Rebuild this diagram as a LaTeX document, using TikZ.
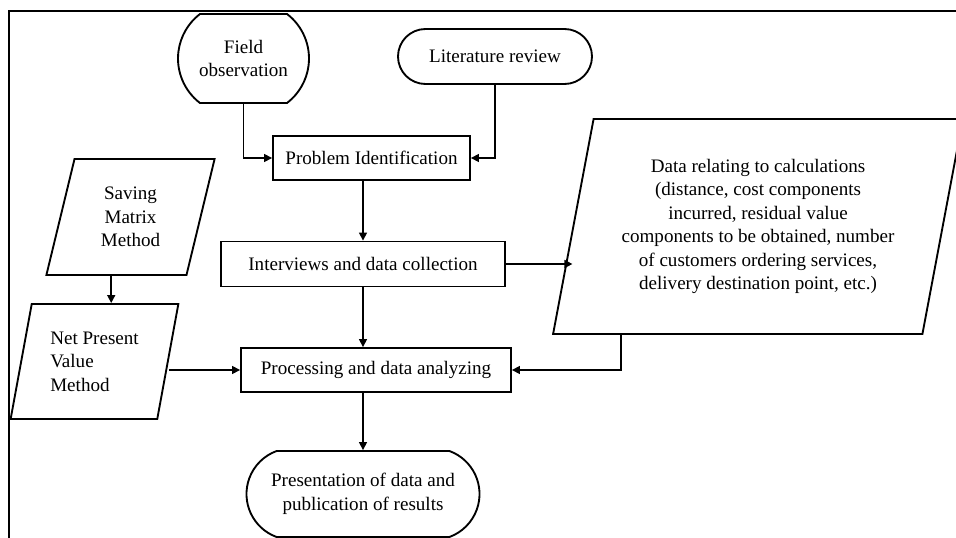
\documentclass[tikz,border=0pt]{standalone}
\usepackage{fontspec}
\setmainfont{Liberation Serif}
\usepackage{tikz}
\usetikzlibrary{positioning,shapes.misc,shapes.geometric,arrows.meta,calc}

\tikzset{
	box/.style={draw, line width=1.4pt, inner sep=0pt, align=center},
	term/.style={box, rounded rectangle},
	io/.style={box, trapezium, trapezium left angle=76, trapezium right angle=104, trapezium stretches=true},
	link/.style={line width=1.15pt, -{Triangle[length=6pt,width=6pt]}},
}

\begin{document}
\begin{tikzpicture}[x=0.75pt, y=-0.75pt, font=\fontsize{14.3}{17.6}\selectfont]
	\clip (0,0) rectangle (956,538);
	\draw[line width=1.1pt] (9,600) -- (9,11) -- (1000,11);
	\node[term, rounded rectangle arc length=105, minimum width=98.25pt, minimum height=66.75pt] (field) at (243.5,58.5) {Field\\observation};
	\node[term, minimum width=145.5pt, minimum height=41.25pt] (lit) at (495,56.5) {Literature review};
	\node[box, minimum width=147.75pt, minimum height=33pt] (prob) at (371.5,158) {Problem Identification};
	\node[box, minimum width=213pt, minimum height=33.75pt] (iv) at (363,264) {Interviews and data collection};
	\node[box, minimum width=202.5pt, minimum height=33pt] (proc) at (376,370) {Processing and data analyzing};
	\node[term, rounded rectangle arc length=140, minimum width=174.75pt, minimum height=64.5pt] (pres) at (363,494) {Presentation of data and\\publication of results};
	\node[io, minimum width=126.75pt, minimum height=87pt] (sav) at (130.5,217) {Saving\\Matrix\\Method};
	\node[io, minimum width=126.75pt, minimum height=86.25pt, align=left] (npv) at (94.5,361.5) {Net Present\\Value\\Method};
	\node[io, minimum width=307.5pt, minimum height=161.25pt] (data) at (758,226.5) {Data relating to calculations\\(distance, cost components\\incurred, residual value\\components to be obtained, number\\of customers ordering services,\\delivery destination point, etc.)};
	\coordinate (savout) at ($(sav.bottom left corner)+(66,0)$);
	\coordinate (dataout) at ($(data.bottom left corner)+(69,0)$);
	\draw[link] (field.south) |- (prob.west);
	\draw[link] (lit.south) |- (prob.east);
	\draw[link] (prob.south -| iv.north) -- (iv.north);
	\draw[link] (iv.east) -- (iv.east -| data.west);
	\draw[link] (iv.south) -- (iv.south |- proc.north);
	\draw[link] (dataout) |- (proc.east);
	\draw[link] (proc.south -| pres.north) -- (pres.north);
	\draw[link] (savout) -- (savout |- npv.north);
	\draw[link] (proc.west -| npv.east) -- (proc.west);
\end{tikzpicture}
\end{document}
